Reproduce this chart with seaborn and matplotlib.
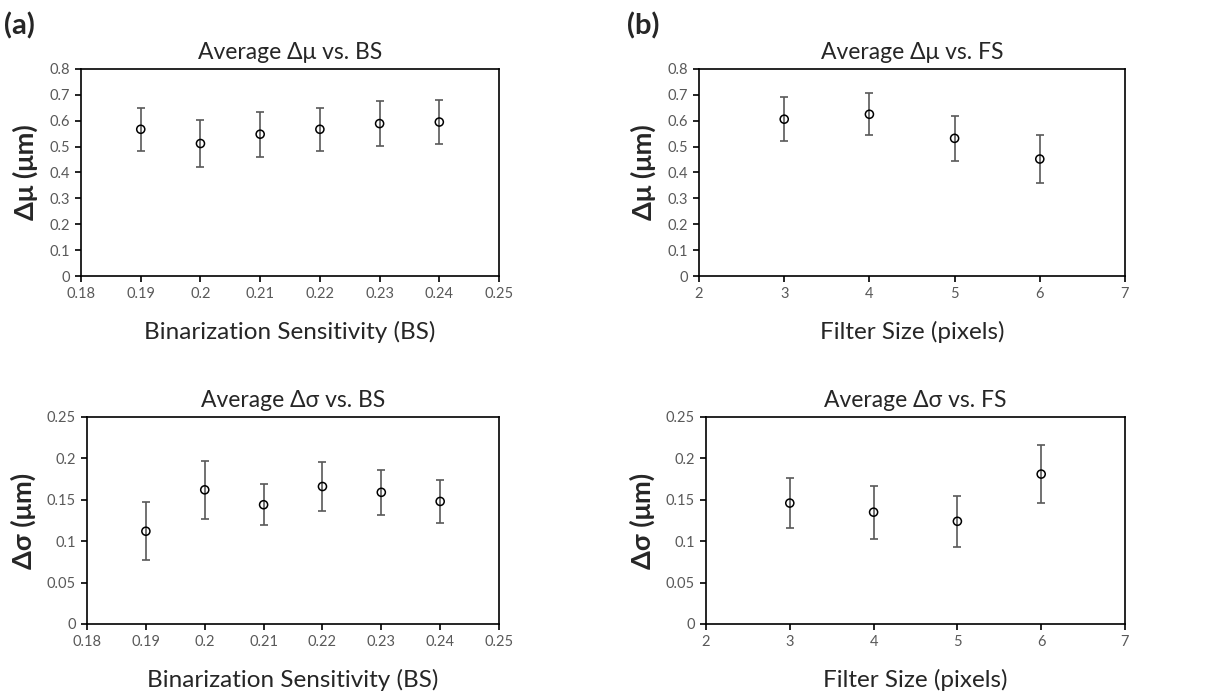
import matplotlib
matplotlib.use("Agg")
import matplotlib.pyplot as plt
import numpy as np
import pandas as pd
import seaborn as sns

# binarization sensitivity sweep
bs_values = [0.19, 0.20, 0.21, 0.22, 0.23, 0.24]
bs_dmu = [0.567, 0.512, 0.548, 0.567, 0.589, 0.595]
bs_dmu_err = [0.083, 0.090, 0.087, 0.083, 0.088, 0.086]
bs_dsigma = [0.112, 0.162, 0.144, 0.166, 0.159, 0.148]
bs_dsigma_err = [0.035, 0.035, 0.025, 0.030, 0.027, 0.026]

# filter size sweep
fs_values = [3, 4, 5, 6]
fs_dmu = [0.606, 0.625, 0.532, 0.452]
fs_dmu_err = [0.085, 0.081, 0.087, 0.093]
fs_dsigma = [0.146, 0.135, 0.124, 0.181]
fs_dsigma_err = [0.030, 0.032, 0.031, 0.035]

sns.set_theme(style="ticks")
plt.rcParams["font.family"] = ["Lato", "Open Sans", "DejaVu Sans"]

TICK_GREY = "#595959"


def draw_panel(ax, x, y, err, title, xlabel, ylabel, xlim, xticks, xticklabels, ylim, yticks, yticklabels):
    df = pd.DataFrame({"x": x, "y": y, "err": err})
    ax.errorbar(df["x"], df["y"], yerr=df["err"], fmt="none", ecolor=TICK_GREY,
                elinewidth=1.2, capsize=2.8, capthick=1.2, zorder=2)
    sns.scatterplot(data=df, x="x", y="y", ax=ax, marker="o", s=34,
                    facecolor="none", edgecolor="black", linewidth=1.1, zorder=3)
    ax.set_xlim(*xlim)
    ax.set_ylim(*ylim)
    ax.set_xticks(xticks)
    ax.set_xticklabels(xticklabels)
    ax.set_yticks(yticks)
    ax.set_yticklabels(yticklabels)
    for side in ["top", "right", "left", "bottom"]:
        ax.spines[side].set_visible(True)
        ax.spines[side].set_color("black")
        ax.spines[side].set_linewidth(1.2)
    ax.tick_params(axis="both", direction="out", length=4, width=1.2, color="black",
                   labelsize=10.5, labelcolor=TICK_GREY, pad=4)
    ax.set_title(title, fontsize=16.5, pad=7)
    ax.set_xlabel(xlabel, fontsize=17.5, labelpad=14)
    ax.set_ylabel(ylabel, fontsize=19.5, fontweight="bold", labelpad=8)


fig = plt.figure(figsize=(12.24, 6.94), dpi=100)

bs_ticks = [0.18, 0.19, 0.20, 0.21, 0.22, 0.23, 0.24, 0.25]
bs_ticklabels = ["0.18", "0.19", "0.2", "0.21", "0.22", "0.23", "0.24", "0.25"]
fs_ticks = [2, 3, 4, 5, 6, 7]
fs_ticklabels = ["2", "3", "4", "5", "6", "7"]
mu_ticks = [0, 0.1, 0.2, 0.3, 0.4, 0.5, 0.6, 0.7, 0.8]
mu_ticklabels = ["0", "0.1", "0.2", "0.3", "0.4", "0.5", "0.6", "0.7", "0.8"]
sg_ticks = [0, 0.05, 0.1, 0.15, 0.2, 0.25]
sg_ticklabels = ["0", "0.05", "0.1", "0.15", "0.2", "0.25"]

ax1 = fig.add_axes([0.0662, 0.6023, 0.3415, 0.2983])
draw_panel(ax1, bs_values, bs_dmu, bs_dmu_err, "Average Δμ vs. BS", "Binarization Sensitivity (BS)",
           "Δμ (μm)", (0.18, 0.25), bs_ticks, bs_ticklabels, (0, 0.8), mu_ticks, mu_ticklabels)

ax2 = fig.add_axes([0.5711, 0.6023, 0.3480, 0.2983])
draw_panel(ax2, fs_values, fs_dmu, fs_dmu_err, "Average Δμ vs. FS", "Filter Size (pixels)",
           "Δμ (μm)", (2, 7), fs_ticks, fs_ticklabels, (0, 0.8), mu_ticks, mu_ticklabels)

ax3 = fig.add_axes([0.0711, 0.1009, 0.3366, 0.2983])
draw_panel(ax3, bs_values, bs_dsigma, bs_dsigma_err, "Average Δσ vs. BS", "Binarization Sensitivity (BS)",
           "Δσ (μm)", (0.18, 0.25), bs_ticks, bs_ticklabels, (0, 0.25), sg_ticks, sg_ticklabels)

ax4 = fig.add_axes([0.5768, 0.1009, 0.3423, 0.2983])
draw_panel(ax4, fs_values, fs_dsigma, fs_dsigma_err, "Average Δσ vs. FS", "Filter Size (pixels)",
           "Δσ (μm)", (2, 7), fs_ticks, fs_ticklabels, (0, 0.25), sg_ticks, sg_ticklabels)

fig.text(0.003, 0.963, "(a)", fontsize=21, fontweight="bold", va="center", ha="left")
fig.text(0.512, 0.963, "(b)", fontsize=21, fontweight="bold", va="center", ha="left")

fig.savefig("out.png", dpi=100, facecolor="white")
